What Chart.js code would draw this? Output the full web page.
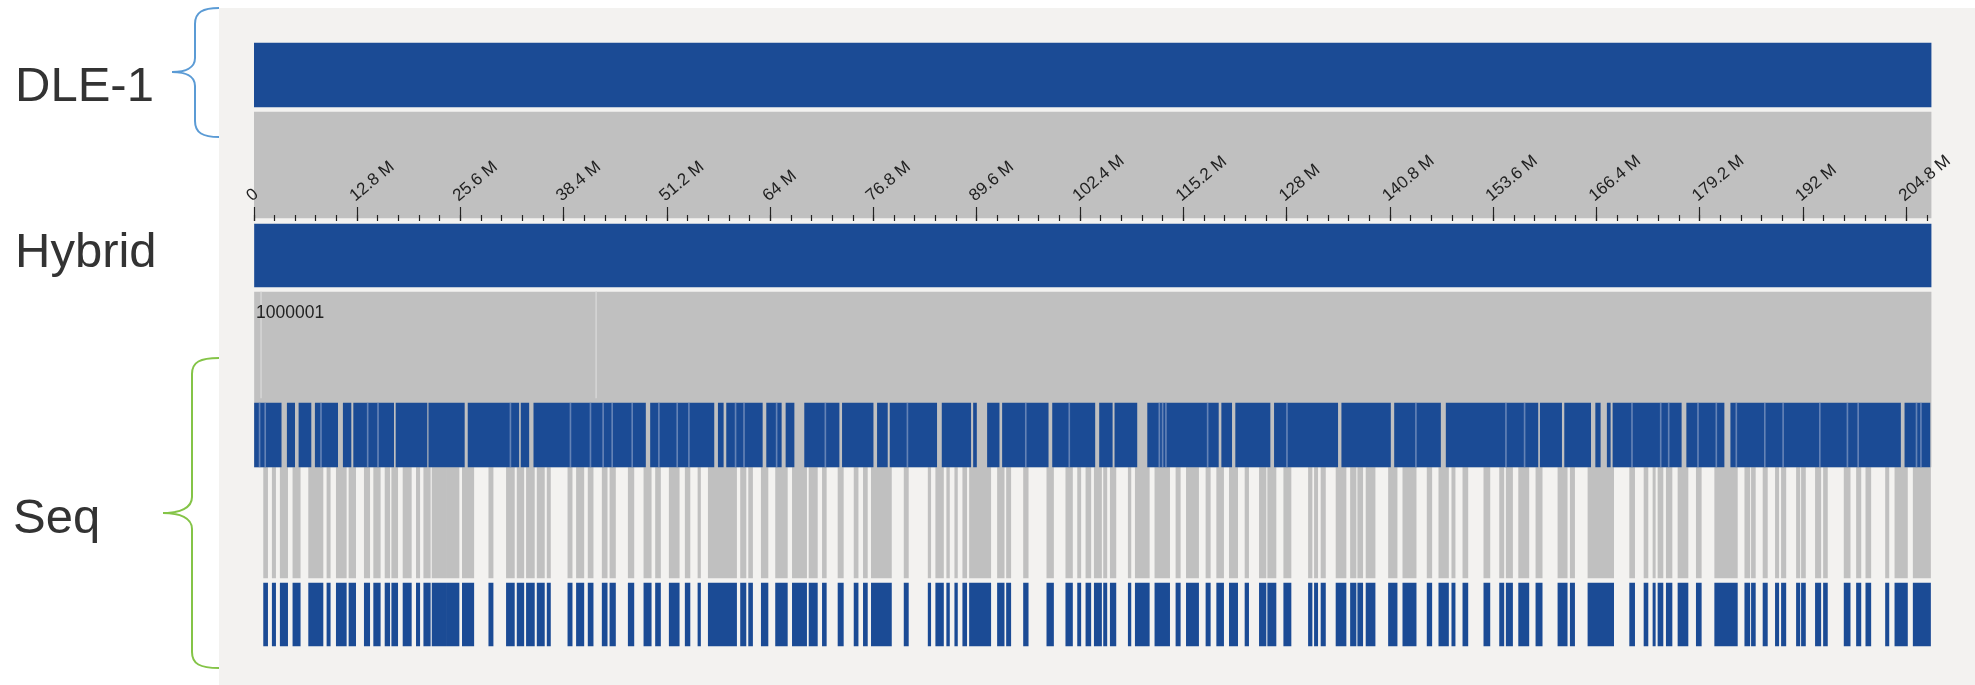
<!DOCTYPE html>
<html>
<head>
<meta charset="utf-8">
<script src="https://cdn.jsdelivr.net/npm/chart.js@4.4.1/dist/chart.umd.min.js"></script>
<style>
  html, body { margin: 0; padding: 0; background: #ffffff; }
  #stage { position: relative; width: 1975px; height: 685px; overflow: hidden;
           font-family: "Liberation Sans", Arial, sans-serif; }
  #panel { position: absolute; left: 219px; top: 8px; width: 1756px; height: 677px; background: #f3f2f0; }
  canvas { position: absolute; left: 0; top: 0; }
  .track-name { position: absolute; font-size: 49px; line-height: 49px; color: #333333; white-space: nowrap; }
  #contigId { position: absolute; left: 256px; top: 302px; font-size: 17.5px; line-height: 20px; color: #222222; }
  #braces { position: absolute; left: 0; top: 0; }
</style>
</head>
<body>
<div id="stage">
  <div id="panel"></div>
  <canvas id="refChart" width="1975" height="685"></canvas>
  <canvas id="seqChart" width="1975" height="685"></canvas>
  <div id="contigId">1000001</div>
  <div class="track-name" style="left:15px; top:60px;">DLE-1</div>
  <div class="track-name" style="left:15px; top:226px;">Hybrid</div>
  <div class="track-name" style="left:13px; top:492px;">Seq</div>
  <svg id="braces" width="240" height="685">
    <path d="M219,8 C203,8 195,12 195,24 L195,58 C195,68 185,72 172,72 C185,72 195,76 195,86 L195,121 C195,133 203,137 219,137"
          fill="none" stroke="#5b9bd5" stroke-width="2"/>
    <path d="M219,358 C200,358 192,362 192,374 L192,497 C192,508 180,513 163,513 C180,513 192,518 192,529 L192,652 C192,664 200,668 219,668"
          fill="none" stroke="#84c447" stroke-width="2"/>
  </svg>
</div>
<script>
// Chromosome length and ruler (Mb)
const chromLength = 207.9;
const majorTicks = [0, 12.8, 25.6, 38.4, 51.2, 64, 76.8, 89.6, 102.4, 115.2, 128, 140.8, 153.6, 166.4, 179.2, 192, 204.8];
const tickLabels = ['0', '12.8 M', '25.6 M', '38.4 M', '51.2 M', '64 M', '76.8 M', '89.6 M', '102.4 M',
                    '115.2 M', '128 M', '140.8 M', '153.6 M', '166.4 M', '179.2 M', '192 M', '204.8 M'];
const minorStep = 2.56;

// Optical maps spanning the whole chromosome (start, end in Mb)
const dleMap = [[0, chromLength]];
const hybridMap = [[0, chromLength]];
const hybridScaffoldEdges = [0.87, 42.4];

// Sequence contigs placed on the hybrid scaffold
const seqContigs = [
  [0, 3.37], [4.12, 5.04], [5.57, 7.06], [7.59, 10.37], [11.06, 12.02], [12.35, 17.31],
  [17.60, 21.44], [21.66, 26.07], [26.53, 32.82], [33.10, 34.06], [34.68, 48.52], [49.14, 57.00],
  [57.54, 58.16], [58.57, 63.00], [63.53, 65.35], [65.93, 66.93], [68.24, 72.51], [72.92, 76.73],
  [77.26, 78.50], [78.83, 84.61], [85.28, 88.83], [89.17, 89.54], [90.90, 92.35], [92.76, 98.43],
  [98.97, 104.21], [104.79, 106.37], [106.69, 109.42], [110.75, 119.52], [119.93, 121.17], [121.66, 125.92],
  [126.46, 134.31], [134.81, 140.85], [141.35, 147.05], [147.75, 159.12], [159.41, 162.06], [162.43, 165.66],
  [166.28, 166.85], [167.71, 168.09], [168.42, 176.89], [177.56, 182.19], [183.02, 204.06], [204.60, 207.70]
];
// Junctions between abutting contigs inside a placed block
const contigJoins = [
  0.69, 1.39, 8.30, 14.09, 15.37, 31.78, 39.22, 41.70, 43.27, 44.39, 46.87, 50.18, 52.45, 53.90,
  59.68, 60.73, 64.77, 70.81, 80.98, 95.65, 101.04, 112.20, 112.61, 113.02, 118.19, 128.02, 144.00,
  155.16, 157.47, 170.78, 174.34, 175.33, 178.96, 181.23, 183.71, 187.24, 189.51, 194.06, 197.48,
  198.81, 206.04, 206.59
];

// Sequence contigs aligned to the reference (start, end in Mb)
const seqAligned = [
  [1.19, 1.69], [2.26, 2.68], [3.25, 4.17], [4.82, 5.73], [6.77, 8.55], [9.04, 9.45],
  [10.20, 11.44], [11.77, 12.60], [13.67, 14.34], [14.83, 15.65], [16.24, 16.82], [17.07, 17.81],
  [18.47, 19.50], [20.12, 20.54], [21.04, 21.85], [22.07, 23.76], [23.84, 25.41], [25.82, 27.24],
  [29.10, 29.63], [31.28, 32.27], [32.61, 33.44], [33.76, 34.75], [35.09, 35.99], [36.33, 36.74],
  [38.90, 39.43], [39.96, 40.88], [41.41, 42.03], [43.15, 43.77], [44.11, 44.80], [46.38, 47.08],
  [48.32, 49.23], [49.76, 50.38], [51.46, 52.70], [53.44, 54.03], [55.02, 55.34], [56.30, 59.81],
  [60.30, 60.97], [61.30, 61.79], [62.87, 63.70], [64.64, 66.10], [66.72, 68.49], [68.79, 69.82],
  [70.44, 70.93], [72.38, 73.04], [74.37, 74.87], [75.52, 76.02], [76.51, 79.00], [80.57, 81.10],
  [83.55, 83.87], [84.49, 85.45], [85.85, 86.19], [86.85, 87.18], [87.84, 88.33], [88.67, 91.31],
  [92.14, 92.97], [93.26, 93.79], [95.37, 95.95], [98.26, 99.09], [100.61, 101.44], [102.07, 102.47],
  [103.10, 103.71], [104.14, 105.04], [105.29, 105.70], [106.12, 106.82], [108.35, 108.68], [109.22, 110.96],
  [111.65, 113.48], [114.26, 114.80], [115.55, 117.07], [117.98, 118.52], [119.31, 120.17], [120.88, 121.91],
  [122.82, 123.27], [124.60, 125.42], [125.63, 126.66], [127.62, 128.52], [130.68, 131.13], [131.42, 131.83],
  [132.24, 132.79], [134.10, 135.34], [135.89, 136.58], [136.79, 137.41], [137.82, 138.94], [140.60, 141.67],
  [142.38, 144.03], [145.39, 145.97], [146.84, 148.04], [148.45, 148.86], [149.82, 150.44], [152.42, 153.17],
  [154.37, 154.90], [155.19, 155.98], [156.73, 158.00], [158.87, 159.65], [161.60, 162.75], [163.13, 163.67],
  [165.32, 168.51], [170.49, 171.11], [172.27, 172.76], [173.38, 173.67], [174.00, 174.62], [175.03, 175.74],
  [176.48, 177.72], [178.75, 179.37], [181.03, 183.84], [184.76, 185.38], [185.58, 186.07], [187.02, 187.56],
  [188.55, 188.97], [189.30, 189.85], [191.16, 191.58], [191.78, 192.28], [193.51, 194.18], [194.51, 195.00],
  [197.07, 197.82], [198.60, 199.15], [199.76, 200.38], [202.20, 202.62], [203.36, 204.92], [205.63, 207.78]
];

// Track rows: centre line and height in canvas pixels
const TRACKS = {
  dle:      { y: 75,    h: 64 },
  ruler:    { y: 165,   h: 106 },
  hybrid:   { y: 255.5, h: 63 },
  band:     { y: 379.5, h: 175 },
  edges:    { y: 345,   h: 106 },
  contigs:  { y: 435,   h: 64 },
  links:    { y: 522.5, h: 111 },
  aligned:  { y: 614.5, h: 63 }
};
const MAP_BLUE = '#1b4b95';
const LINK_GRAY = '#c0c0c0';
const LINE_W = 0.12; // width of single-line marks, Mb

function track(label, intervals, row, color, order) {
  return {
    label,
    data: intervals.map(([s, e]) => ({ x: [s, e], y: row.y })),
    backgroundColor: color,
    barThickness: row.h,
    borderWidth: 0,
    grouped: false,
    order
  };
}
function lines(label, positions, row, color, order) {
  return track(label, positions.map(p => [p - LINE_W / 2, p + LINE_W / 2]), row, color, order);
}

const common = {
  indexAxis: 'y',
  responsive: false,
  animation: false,
  devicePixelRatio: 1,
  events: [],
  plugins: { legend: { display: false }, tooltip: { enabled: false } },
  layout: { padding: { left: 254, right: 43.5, top: 0, bottom: 0 } }
};

// Reference optical map and the ruler band behind the scale
new Chart(document.getElementById('refChart'), {
  type: 'bar',
  data: {
    datasets: [
      track('DLE-1', dleMap, TRACKS.dle, MAP_BLUE, 1),
      track('ruler', [[0, chromLength]], TRACKS.ruler, LINK_GRAY, 2)
    ]
  },
  options: Object.assign({}, common, {
    scales: {
      x: { type: 'linear', min: 0, max: chromLength, display: false },
      y: { type: 'linear', min: 0, max: 685, reverse: true, offset: false, display: false }
    }
  })
});

// Ruler, hybrid scaffold and sequence contig tracks
new Chart(document.getElementById('seqChart'), {
  type: 'bar',
  data: {
    datasets: [
      lines('joins', contigJoins, TRACKS.contigs, 'rgba(150,168,205,0.6)', 1),
      track('Seq contigs', seqContigs, TRACKS.contigs, MAP_BLUE, 2),
      track('Seq aligned', seqAligned, TRACKS.aligned, MAP_BLUE, 3),
      track('links', seqAligned, TRACKS.links, LINK_GRAY, 4),
      lines('scaffold edges', hybridScaffoldEdges, TRACKS.edges, '#d4d4d4', 5),
      track('Hybrid', hybridMap, TRACKS.hybrid, MAP_BLUE, 6),
      track('alignment band', [[0, chromLength]], TRACKS.band, LINK_GRAY, 7)
    ]
  },
  options: Object.assign({}, common, {
    scales: {
      x: {
        type: 'linear', position: 'top', min: 0, max: chromLength,
        afterBuildTicks: s => { s.ticks = majorTicks.map(v => ({ value: v })); },
        afterFit: s => { s.height = 221; },
        border: { display: false },
        grid: { drawOnChartArea: false, drawTicks: true, tickLength: 14, tickColor: '#222', tickWidth: 1.2 },
        ticks: {
          autoSkip: false, minRotation: 40, maxRotation: 40, padding: 1, labelOffset: 8, color: '#222',
          font: { family: '"Liberation Sans", Arial, sans-serif', size: 17 },
          callback: (v, i) => tickLabels[i]
        }
      },
      xMinor: {
        type: 'linear', axis: 'x', position: { y: 215 }, min: 0, max: chromLength,
        border: { display: false },
        ticks: { display: false, stepSize: minorStep, includeBounds: false },
        grid: { drawOnChartArea: false, drawTicks: true, tickLength: 6, tickColor: '#222', tickWidth: 1.2 }
      },
      y: { type: 'linear', min: 221, max: 685, reverse: true, offset: false, display: false }
    }
  })
});
</script>
</body>
</html>
